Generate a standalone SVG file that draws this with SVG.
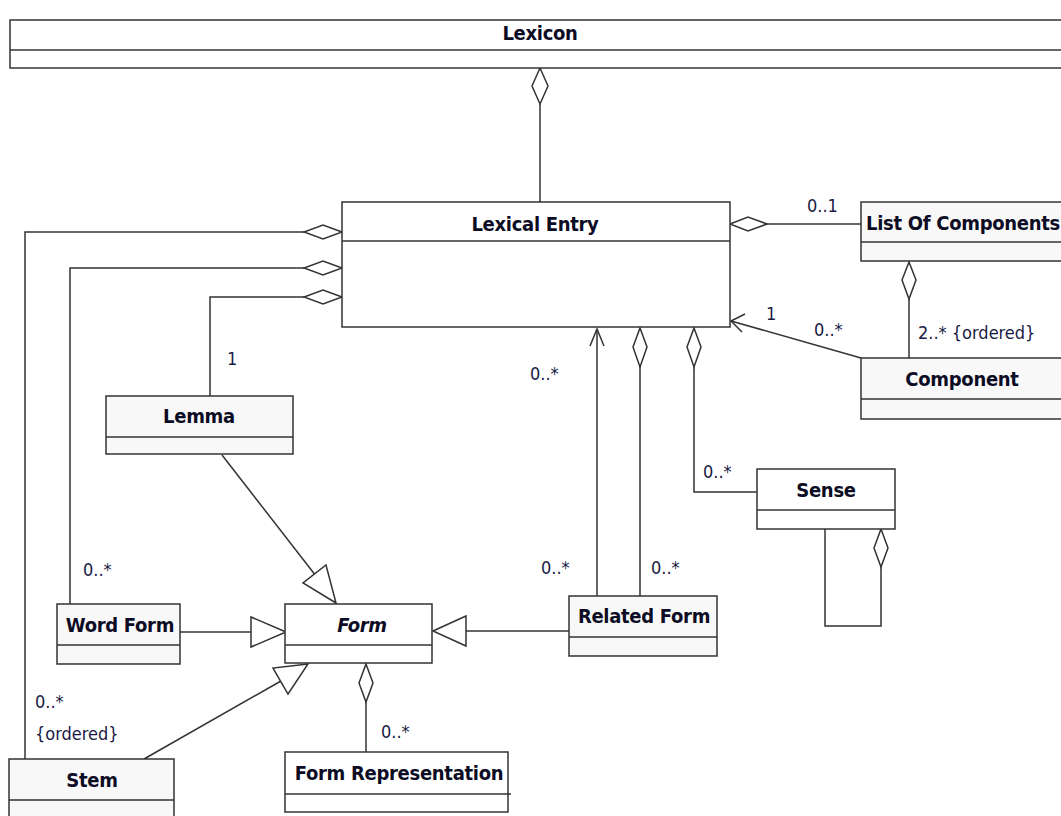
<svg xmlns="http://www.w3.org/2000/svg" width="1061" height="816" viewBox="0 0 1061 816">
<style>
.box{fill:#f8f8f8;stroke:#333;stroke-width:1.5}
.wbox{fill:#fff;stroke:#333;stroke-width:1.5}
.div{stroke:#333;stroke-width:1.5}
.t{font-family:"DejaVu Sans Condensed","DejaVu Sans",sans-serif;font-weight:bold;font-size:20px;fill:#0c0c24;text-anchor:middle;letter-spacing:-0.3px}
.l{font-family:"DejaVu Sans Condensed","DejaVu Sans",sans-serif;font-size:18px;fill:#1a1a44}
.c{fill:none;stroke:#333;stroke-width:1.5}
.dia{fill:#fff;stroke:#333;stroke-width:1.5}
</style>
<rect width="1061" height="816" fill="#fff"/>
<g id="connectors">
<line class="c" x1="540" y1="104" x2="540" y2="202"/>
<polygon class="dia" points="540,68 548,86 540,104 532,86"/>
<line class="c" x1="767" y1="224" x2="861" y2="224"/>
<polygon class="dia" points="730,224 748,217 767,224 748,231"/>
<line class="c" x1="909" y1="299" x2="909" y2="358"/>
<polygon class="dia" points="909,262 916,280 909,299 902,280"/>
<line class="c" x1="861" y1="358" x2="731" y2="321"/>
<polyline class="c" points="745,314 731,321 742,332"/>
<polyline class="c" points="304,232 25,232 25,759"/>
<polygon class="dia" points="342,232 323,225 304,232 323,239"/>
<polyline class="c" points="304,268 70,268 70,604"/>
<polygon class="dia" points="342,268 323,261 304,268 323,275"/>
<polyline class="c" points="304,297 210,297 210,396"/>
<polygon class="dia" points="342,297 323,290 304,297 323,304"/>
<line class="c" x1="222" y1="455" x2="316" y2="576"/>
<polygon class="dia" points="336,603 303,583 326,565"/>
<line class="c" x1="180" y1="632" x2="251" y2="632"/>
<polygon class="dia" points="286,632 251,617 251,647"/>
<line class="c" x1="144" y1="759" x2="281" y2="681"/>
<polygon class="dia" points="308,664 273,668 288,694"/>
<line class="c" x1="366" y1="702" x2="366" y2="752"/>
<polygon class="dia" points="366,664 373,683 366,702 359,683"/>
<line class="c" x1="569" y1="631" x2="466" y2="631"/>
<polygon class="dia" points="433,631 466,616 466,646"/>
<line class="c" x1="597" y1="596" x2="597" y2="329"/>
<polyline class="c" points="590,346 597,329 604,346"/>
<line class="c" x1="640" y1="367" x2="640" y2="596"/>
<polygon class="dia" points="640,328 647,347 640,367 633,347"/>
<polyline class="c" points="694,367 694,492 757,492"/>
<polygon class="dia" points="694,328 701,347 694,367 687,347"/>
<polyline class="c" points="881,567 881,626 825,626 825,529"/>
<polygon class="dia" points="881,529 888,548 881,567 874,548"/>
</g>
<g id="labels">
<text class="l" x="807" y="212">0..1</text>
<text class="l" x="918" y="339">2..* {ordered}</text>
<text class="l" x="766" y="320">1</text>
<text class="l" x="814" y="336">0..*</text>
<text class="l" x="227" y="365">1</text>
<text class="l" x="83" y="576">0..*</text>
<text class="l" x="35" y="708">0..*</text>
<text class="l" x="35" y="740">{ordered}</text>
<text class="l" x="381" y="738">0..*</text>
<text class="l" x="530" y="380">0..*</text>
<text class="l" x="541" y="574">0..*</text>
<text class="l" x="651" y="574">0..*</text>
<text class="l" x="703" y="478">0..*</text>
</g>
<g id="lexicon">
<rect class="wbox" x="10" y="20" width="1060" height="48"/>
<line class="div" x1="10" y1="50" x2="1061" y2="50"/>
<text class="t" x="540" y="40">Lexicon</text>
</g>
<g id="lexical-entry">
<rect class="wbox" x="342" y="202" width="388" height="125"/>
<line class="div" x1="342" y1="241" x2="730" y2="241"/>
<text class="t" x="535" y="231">Lexical Entry</text>
</g>
<g id="list-of-components">
<rect class="box" x="861" y="202" width="210" height="59"/>
<line class="div" x1="861" y1="242" x2="1061" y2="242"/>
<text class="t" x="963" y="230">List Of Components</text>
</g>
<g id="component">
<rect class="box" x="861" y="358" width="210" height="61"/>
<line class="div" x1="861" y1="399" x2="1061" y2="399"/>
<text class="t" x="962" y="386">Component</text>
</g>
<g id="lemma">
<rect class="box" x="106" y="396" width="187" height="58"/>
<line class="div" x1="106" y1="437" x2="293" y2="437"/>
<text class="t" x="199" y="423">Lemma</text>
</g>
<g id="word-form">
<rect class="box" x="57" y="604" width="123" height="60"/>
<line class="div" x1="57" y1="645" x2="180" y2="645"/>
<text class="t" x="120" y="632">Word Form</text>
</g>
<g id="form">
<rect class="wbox" x="285" y="604" width="147" height="59"/>
<line class="div" x1="285" y1="645" x2="432" y2="645"/>
<text class="t" x="362" y="632" font-style="italic">Form</text>
</g>
<g id="stem">
<rect class="box" x="9" y="759" width="165" height="70"/>
<line class="div" x1="9" y1="800" x2="174" y2="800"/>
<text class="t" x="92" y="787">Stem</text>
</g>
<g id="form-representation">
<rect class="wbox" x="285" y="752" width="223" height="60"/>
<line class="div" x1="285" y1="794" x2="511" y2="794"/>
<text class="t" x="399" y="780">Form Representation</text>
</g>
<g id="related-form">
<rect class="box" x="569" y="596" width="148" height="60"/>
<line class="div" x1="569" y1="637" x2="717" y2="637"/>
<text class="t" x="644" y="623">Related Form</text>
</g>
<g id="sense">
<rect class="wbox" x="757" y="469" width="138" height="60"/>
<line class="div" x1="757" y1="510" x2="895" y2="510"/>
<text class="t" x="826" y="497">Sense</text>
</g>
</svg>
